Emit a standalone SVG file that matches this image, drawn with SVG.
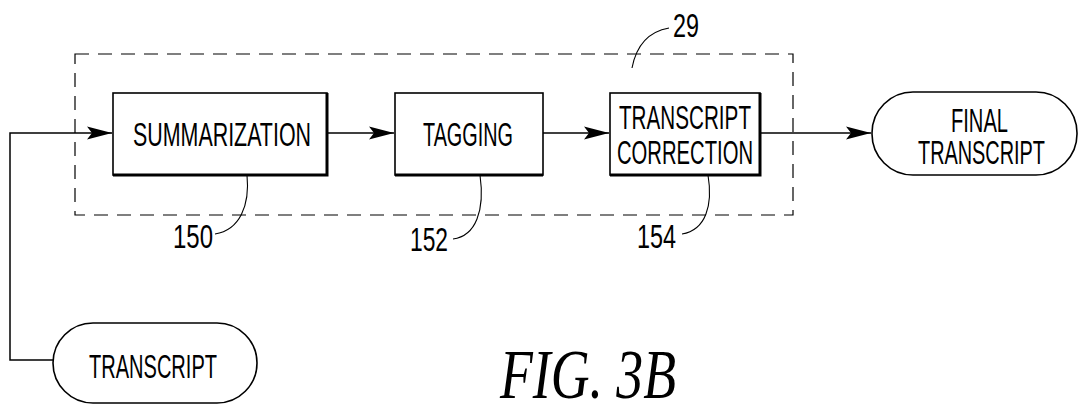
<svg xmlns="http://www.w3.org/2000/svg" width="1079" height="406" viewBox="0 0 1079 406">
<style>
.box{fill:#fff;stroke:#000;stroke-width:1.6}
.shade{fill:none;stroke:#000;stroke-width:3}
.conn{fill:none;stroke:#000;stroke-width:1.5}
.lead{fill:none;stroke:#000;stroke-width:1.1}
.dash{fill:none;stroke:#000;stroke-width:1.2;stroke-dasharray:14 9}
.t{font-family:"Liberation Sans","DejaVu Sans Condensed",Arial,sans-serif;font-size:34px;fill:#000}
.fig{font-family:"Liberation Serif","Times New Roman",serif;font-style:italic;font-size:70px;fill:#000}
</style>
<defs>
<marker id="arr" markerUnits="userSpaceOnUse" markerWidth="26" markerHeight="16" viewBox="0 0 26 16" refX="25" refY="8" orient="auto">
<path d="M0,1.5 L25,8 L0,14.5 L5,8 Z" fill="#000"/>
</marker>
</defs>
<rect id="group29" x="75" y="54" width="718" height="161" class="dash"/>
<g id="connectors">
<polyline class="conn" points="53,360 10,360 10,133 112,133" marker-end="url(#arr)"/>
<line class="conn" x1="327" y1="133" x2="394" y2="133" marker-end="url(#arr)"/>
<line class="conn" x1="543" y1="133" x2="609" y2="133" marker-end="url(#arr)"/>
<line class="conn" x1="760" y1="133" x2="871" y2="133" marker-end="url(#arr)"/>
</g>
<g id="summarization">
<rect class="box" x="113" y="93" width="214" height="82"/>
<polyline class="shade" points="113,175 327,175 327,93"/>
<text class="t" x="133" y="146" textLength="178" lengthAdjust="spacingAndGlyphs">SUMMARIZATION</text>
</g>
<g id="tagging">
<rect class="box" x="395" y="93" width="148" height="82"/>
<polyline class="shade" points="395,175 543,175"/>
<text class="t" x="423" y="146" textLength="90" lengthAdjust="spacingAndGlyphs">TAGGING</text>
</g>
<g id="correction">
<rect class="box" x="610" y="93" width="150" height="82"/>
<polyline class="shade" points="610,175 760,175 760,93"/>
<text class="t" x="619" y="129" textLength="132" lengthAdjust="spacingAndGlyphs">TRANSCRIPT</text>
<text class="t" x="617" y="164" textLength="136" lengthAdjust="spacingAndGlyphs">CORRECTION</text>
</g>
<g id="final">
<rect class="box" x="872" y="92" width="205" height="83" rx="41" ry="41"/>
<text class="t" x="951" y="132" textLength="57" lengthAdjust="spacingAndGlyphs">FINAL</text>
<text class="t" x="918" y="164" textLength="127" lengthAdjust="spacingAndGlyphs">TRANSCRIPT</text>
</g>
<g id="transcript">
<rect class="box" x="53" y="323" width="204" height="80" rx="40" ry="40"/>
<text class="t" x="89" y="378" textLength="128" lengthAdjust="spacingAndGlyphs">TRANSCRIPT</text>
</g>
<g id="labels">
<path class="lead" d="M669,28 C652,31 637,42 632,68"/>
<text class="t" x="673" y="37" textLength="26" lengthAdjust="spacingAndGlyphs">29</text>
<path class="lead" d="M215,234 C240,230 250,205 247,175"/>
<text class="t" x="173" y="248" textLength="40" lengthAdjust="spacingAndGlyphs">150</text>
<path class="lead" d="M453,239 C476,236 485,210 480,175"/>
<text class="t" x="410" y="251" textLength="38" lengthAdjust="spacingAndGlyphs">152</text>
<path class="lead" d="M682,234 C706,230 713,205 708,175"/>
<text class="t" x="637" y="248" textLength="39" lengthAdjust="spacingAndGlyphs">154</text>
</g>
<text class="fig" x="500" y="398" textLength="176" lengthAdjust="spacingAndGlyphs">FIG. 3B</text>
</svg>
